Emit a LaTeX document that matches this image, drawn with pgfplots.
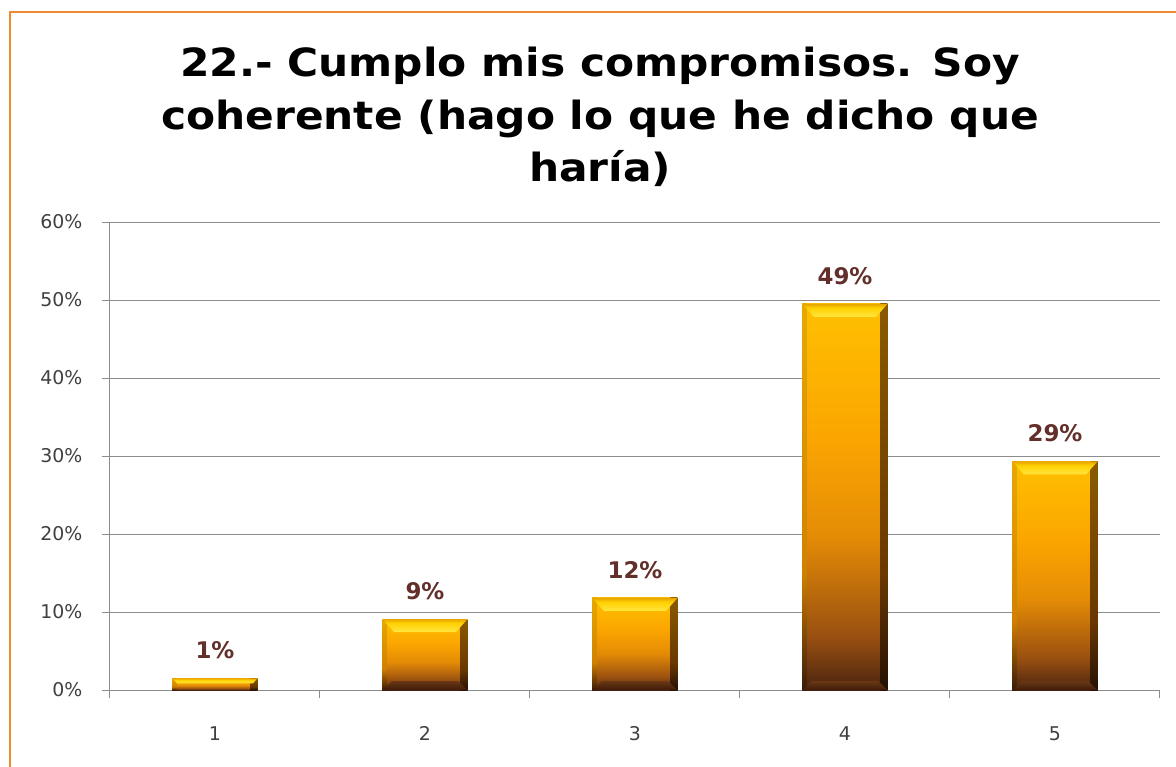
\documentclass[border=0pt]{standalone}
\usepackage{pgfplots}
\pgfplotsset{compat=1.18}
\usepackage{fontspec}
\setmainfont{DejaVu Sans}
\newfontfamily\titlefont[FakeStretch=1.09]{DejaVu Sans}
\definecolor{barbot}{HTML}{4A2410}
\definecolor{barlow}{HTML}{9A5010}
\definecolor{barmid}{HTML}{E58C06}
\definecolor{barorange}{HTML}{FBA600}
\definecolor{baryel}{HTML}{FFC000}
\definecolor{edgetop}{HTML}{8A5A00}
\definecolor{edgemid}{HTML}{6A3800}
\definecolor{edgebot}{HTML}{241004}
\definecolor{ledgetop}{HTML}{E8A800}
\definecolor{ledgemid}{HTML}{D08000}
\definecolor{ledgebot}{HTML}{3A1A08}
\definecolor{captop}{HTML}{E8A400}
\definecolor{capmid}{HTML}{FFD000}
\definecolor{capbot}{HTML}{FFE640}
\definecolor{basetop}{HTML}{6A3814}
\definecolor{basebot}{HTML}{3E1C0A}
\definecolor{labbrown}{HTML}{632F2A}
\definecolor{tickgray}{HTML}{404040}
\definecolor{gridgray}{HTML}{8C8C8C}
\definecolor{frameorange}{HTML}{F08A30}
\pgfdeclareverticalshading{goldbar}{100bp}{color(0bp)=(barbot); color(25bp)=(barbot); color(32bp)=(barlow); color(45bp)=(barmid); color(58bp)=(barorange); color(75bp)=(baryel); color(100bp)=(baryel)}
\pgfdeclareverticalshading{goldedge}{100bp}{color(0bp)=(edgebot); color(25bp)=(edgebot); color(40bp)=(edgemid); color(75bp)=(edgetop); color(100bp)=(edgetop)}
\pgfdeclareverticalshading{goldledge}{100bp}{color(0bp)=(ledgebot); color(25bp)=(ledgebot); color(40bp)=(ledgemid); color(75bp)=(ledgetop); color(100bp)=(ledgetop)}
\pgfdeclareverticalshading{capshade}{100bp}{color(0bp)=(capbot); color(25bp)=(capbot); color(60bp)=(capmid); color(75bp)=(captop); color(100bp)=(captop)}
\pgfdeclareverticalshading{baseshade}{100bp}{color(0bp)=(basebot); color(25bp)=(basebot); color(75bp)=(basetop); color(100bp)=(basetop)}
\pgfdeclareplotmark{topcap}{%
  \pgfpathmoveto{\pgfpoint{-42.5bp}{0bp}}%
  \pgfpathlineto{\pgfpoint{42.5bp}{0bp}}%
  \pgfpathlineto{\pgfpoint{31bp}{-13bp}}%
  \pgfpathlineto{\pgfpoint{-31bp}{-13bp}}%
  \pgfpathclose
  \pgfshadepath{capshade}{0}\pgfusepath{discard}}
\pgfdeclareplotmark{topcapsmall}{%
  \pgfpathmoveto{\pgfpoint{-42.5bp}{0bp}}%
  \pgfpathlineto{\pgfpoint{42.5bp}{0bp}}%
  \pgfpathlineto{\pgfpoint{38bp}{-5bp}}%
  \pgfpathlineto{\pgfpoint{-38bp}{-5bp}}%
  \pgfpathclose
  \pgfshadepath{capshade}{0}\pgfusepath{discard}}
\pgfdeclareplotmark{basecap}{%
  \pgfpathmoveto{\pgfpoint{-42.5bp}{0bp}}%
  \pgfpathlineto{\pgfpoint{42.5bp}{0bp}}%
  \pgfpathlineto{\pgfpoint{33bp}{9bp}}%
  \pgfpathlineto{\pgfpoint{-33bp}{9bp}}%
  \pgfpathclose
  \pgfshadepath{baseshade}{0}\pgfusepath{discard}}
\newcommand{\goldbar}[3]{%
  \addplot[ybar, bar width=85bp, bar shift=0pt, draw=none, shade, shading=goldbar,
    point meta=explicit symbolic, nodes near coords,
    nodes near coords style={font=\bfseries\fontsize{23}{27}\selectfont, text=labbrown, anchor=south, yshift=16bp}]
    coordinates {(#1,#2) [#3]};
  \addplot[ybar, bar width=7bp, bar shift=39bp, draw=none, shade, shading=goldedge]
    coordinates {(#1,#2)};
  \addplot[ybar, bar width=4bp, bar shift=-40.5bp, draw=none, shade, shading=goldledge]
    coordinates {(#1,#2)};
}
\begin{document}
\begin{tikzpicture}
\path[use as bounding box, fill=white] (-110bp,-77bp) rectangle (1066bp,690bp);
\draw[frameorange, line width=2.5bp] (-100bp,-90bp) -- (-100bp,678bp) -- (1080bp,678bp);
\begin{axis}[
  scale only axis,
  width=1050bp, height=468bp,
  xmin=0.5, xmax=5.5,
  ymin=0, ymax=60,
  axis x line*=bottom, axis y line*=left,
  axis line style={gridgray, line width=1bp},
  xtick={0.5,1.5,2.5,3.5,4.5,5.5},
  xticklabels={},
  extra x ticks={1,2,3,4,5},
  extra x tick labels={1,2,3,4,5},
  extra x tick style={major tick length=0pt, grid=none},
  ytick={0,10,20,30,40,50,60},
  yticklabels={0\%,10\%,20\%,30\%,40\%,50\%,60\%},
  ymajorgrids,
  grid style={gridgray, line width=1bp},
  tick align=outside,
  major tick length=8bp,
  tick style={gridgray, line width=1bp},
  tick label style={font=\fontsize{19}{22}\selectfont, text=tickgray},
  xticklabel style={yshift=-33bp},
  yticklabel style={xshift=-16bp},
  title={22.- Cumplo mis compromisos. Soy\\coherente (hago lo que he dicho que\\haría)},
  title style={font=\titlefont\bfseries\fontsize{39}{53}\selectfont, align=center, inner sep=0pt,
    at={(axis description cs:0.4667,1.362)}, anchor=north},
]
\goldbar{1}{1.5}{1\%}
\goldbar{2}{9.1}{9\%}
\goldbar{3}{11.8}{12\%}
\goldbar{4}{49.5}{49\%}
\goldbar{5}{29.3}{29\%}
\addplot[only marks, mark=topcap] coordinates {(2,9.1) (3,11.8) (4,49.5) (5,29.3)};
\addplot[only marks, mark=topcapsmall] coordinates {(1,1.5)};
\addplot[only marks, mark=basecap] coordinates {(2,0) (3,0) (4,0) (5,0)};
\end{axis}
\end{tikzpicture}
\end{document}
